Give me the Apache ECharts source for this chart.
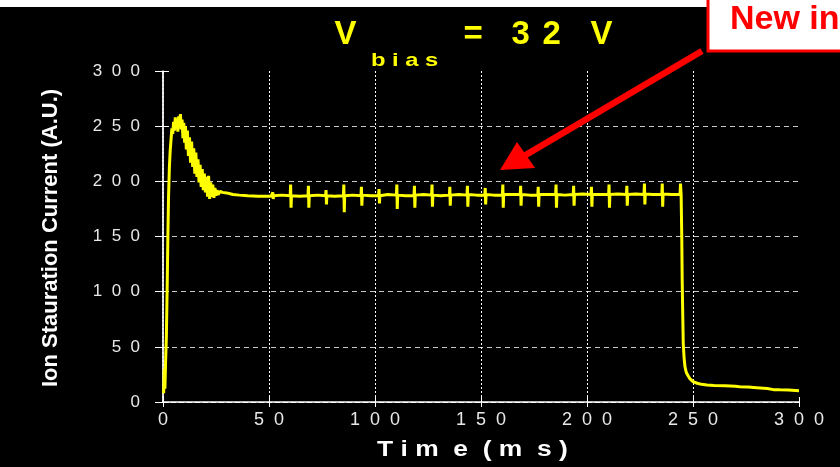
<!DOCTYPE html>
<html>
<head>
<meta charset="utf-8">
<script src="https://cdn.jsdelivr.net/npm/echarts@6/dist/echarts.min.js"></script>
<style>
  html, body { margin: 0; padding: 0; background: #000; }
  #chart { width: 840px; height: 467px; }
</style>
</head>
<body>
<div id="chart"></div>
<script>
// Ion saturation current trace, [time (ms), current (A.U.)]
// Start-up transient: steep rise, ringing overshoot, settling
const riseSegment = [
  [0.3, 8], [0.6, 30], [0.9, 12], [1.2, 35], [1.6, 60], [2.0, 108], [2.3, 150], [2.6, 185],
  [3.0, 212], [3.4, 228], [3.8, 238], [4.2, 248], [4.6, 243], [5.0, 254], [5.4, 246], [5.8, 258],
  [6.2, 249], [6.6, 255], [7.0, 245], [7.4, 259], [7.8, 250], [8.2, 261], [8.6, 247], [9.0, 256],
  [9.4, 239], [9.8, 253], [10.2, 235], [10.6, 250], [11.0, 229], [11.5, 246], [12.0, 223], [12.5, 240],
  [13.0, 217], [13.5, 236], [14.0, 213], [14.5, 230], [15.0, 207], [15.5, 226], [16.0, 204], [16.5, 220],
  [17.0, 199], [17.5, 215], [18.0, 195], [18.5, 211], [19.0, 192], [19.5, 207], [20.0, 190], [20.5, 204],
  [21.0, 186], [21.5, 205], [22.0, 184], [22.5, 199], [23.0, 186], [23.5, 197], [24.0, 185], [24.5, 194],
  [25.0, 187], [25.5, 192], [26.0, 188], [27.0, 191], [28.0, 190], [30.0, 189.5], [33.0, 188],
  [36.0, 187.5], [40.0, 187], [45.0, 186.5], [51.0, 186.5]
];

// Flat-top with the periodic pickup spikes
const plateauSegment = [
  [51.6, 186.5], [51.8, 190], [52.0, 184], [52.2, 187], [56, 187.5],
  [60.0, 187], [60.2, 197], [60.4, 176], [60.6, 187], [64.5, 186.5],
  [68.4, 187], [68.6, 196], [68.8, 176], [69.0, 187], [73, 187.5],
  [76.7, 187], [76.9, 192], [77.1, 179], [77.3, 187], [81, 186.5],
  [85.1, 187], [85.3, 197], [85.5, 172], [85.7, 187], [89.5, 187.5],
  [93.4, 187], [93.6, 195], [93.8, 178], [94.0, 187.5], [98, 187],
  [101.7, 187], [101.9, 193], [102.1, 180], [102.3, 187], [106, 188],
  [110.1, 187.5], [110.3, 197], [110.5, 175], [110.7, 187.5], [114.5, 187],
  [118.4, 187], [118.6, 196], [118.8, 176], [119.0, 187.5], [123, 188],
  [126.7, 187.5], [126.9, 197], [127.1, 177], [127.3, 187.5], [131, 187],
  [135.1, 187.5], [135.3, 195], [135.5, 178], [135.7, 187.5], [139.5, 188],
  [143.4, 187.5], [143.6, 196], [143.8, 177], [144.0, 188], [148, 187.5],
  [151.8, 187.5], [152.0, 194], [152.2, 179], [152.4, 188], [156, 187.5],
  [160.1, 187.5], [160.3, 197], [160.5, 176], [160.7, 188], [164.5, 188],
  [168.5, 188], [168.7, 196], [168.9, 178], [169.1, 188], [173, 187.5],
  [176.8, 187.5], [177.0, 195], [177.2, 177], [177.4, 188], [181, 188],
  [185.2, 188], [185.4, 197], [185.6, 176], [185.8, 188], [189.5, 187.5],
  [193.5, 188], [193.7, 196], [193.9, 178], [194.1, 188], [198, 188.5],
  [201.9, 188], [202.1, 195], [202.3, 177], [202.5, 188], [206, 188],
  [210.2, 188], [210.4, 197], [210.6, 176], [210.8, 188], [214.5, 188.5],
  [218.6, 188], [218.8, 196], [219.0, 178], [219.2, 188], [223, 188.5],
  [226.9, 188], [227.1, 198], [227.3, 179], [227.5, 188.5], [231, 188],
  [235.3, 188], [235.5, 198], [235.7, 177], [235.9, 188.5], [240, 188],
  [243.9, 188], [244.1, 198]
];

// Switch-off and slow tail
const decaySegment = [
  [244.4, 188], [244.7, 150], [244.9, 110], [245.2, 75], [245.4, 53], [245.8, 40], [246.2, 32],
  [246.8, 27], [247.6, 24], [248.6, 21], [250, 18.5], [252, 17], [254, 16], [256.6, 15.4],
  [260, 15], [265, 14.8], [270, 14.2], [272, 13.9], [276, 13.5], [280, 13], [285, 12.3],
  [288, 11.2], [291, 11], [295, 10.9], [300, 10.3]
];

const timeRange = [0, 300];
const currentRange = [0, 300];
const tickStep = 50;

const FONT = '"Liberation Sans", Arial, Helvetica, sans-serif';
const YELLOW = '#ffff00';
const spaced = v => String(v).split('').join('  ');

function label(x, y, text, fill, font, extra) {
  return Object.assign({
    type: 'text', x: x, y: y,
    style: { text: text, fill: fill, font: font, align: 'left', verticalAlign: 'middle' }
  }, extra || {});
}

const chart = echarts.init(document.getElementById('chart'), null, { renderer: 'canvas' });

chart.setOption({
  backgroundColor: '#000',
  animation: false,
  grid: { left: 163, right: 41, top: 71, bottom: 65, containLabel: false },
  xAxis: [{
    type: 'value', min: timeRange[0], max: timeRange[1], interval: tickStep,
    axisLine: { show: true, lineStyle: { color: '#ffffff', width: 1.5 } },
    axisTick: { show: true, inside: true, length: 5, lineStyle: { color: '#ffffff' } },
    axisLabel: { color: '#e8e8e8', fontFamily: FONT, fontSize: 18, margin: 9, formatter: spaced },
    splitLine: { show: true, showMinLine: false, showMaxLine: false,
      lineStyle: { color: '#ffffff', type: [2, 2], width: 1 } }
  }, {
    type: 'value', position: 'top', min: timeRange[0], max: timeRange[1], interval: tickStep,
    axisLine: { show: true, lineStyle: { color: '#ffffff', type: [5, 3], width: 1 } },
    axisTick: { show: true, inside: true, length: 5, lineStyle: { color: '#ffffff' } },
    axisLabel: { show: false }, splitLine: { show: false }
  }],
  yAxis: [{
    type: 'value', min: currentRange[0], max: currentRange[1], interval: tickStep,
    axisLine: { show: true, lineStyle: { color: '#ffffff', type: [2, 2], width: 1.5 } },
    axisTick: { show: true, inside: true, length: 6, lineStyle: { color: '#ffffff' } },
    axisLabel: { color: '#e8e8e8', fontFamily: FONT, fontSize: 17, margin: 23, formatter: spaced },
    splitLine: { show: true, showMinLine: false, showMaxLine: false,
      lineStyle: { color: '#c8c8c8', type: [5, 4], width: 1 } }
  }, {
    type: 'value', position: 'right', min: currentRange[0], max: currentRange[1], interval: tickStep,
    axisLine: { show: true, lineStyle: { color: '#ffffff', width: 1.5 } },
    axisTick: { show: true, inside: true, length: 8, lineStyle: { color: '#ffffff' } },
    axisLabel: { show: false }, splitLine: { show: false }
  }],
  series: [{
    type: 'line',
    data: riseSegment.concat(plateauSegment, decaySegment),
    showSymbol: false,
    clip: true,
    lineStyle: { color: YELLOW, width: 3, join: 'bevel' },
    z: 5
  }],
  graphic: [
    // white slide margin above the plot image
    { type: 'rect', shape: { x: 0, y: 0, width: 840, height: 7 }, z: 1, style: { fill: '#ffffff' } },
    // axis titles
    { type: 'text', x: 51, y: 238, rotation: Math.PI / 2,
      style: { text: 'Ion Stauration Current (A.U.)', fill: '#ffffff', font: 'bold 22px ' + FONT,
               align: 'center', verticalAlign: 'middle' } },
    label(377, 450, 'T i m  e  ( m  s )', '#ffffff', 'bold 22px ' + FONT, { scaleX: 1.2 }),
    // heading: V_bias = 32 V
    label(334.5, 35, 'V', YELLOW, 'bold 33px ' + FONT),
    label(371, 61, 'b i a s', YELLOW, 'bold 19px ' + FONT, { scaleX: 1.25 }),
    label(463.5, 35, '=', YELLOW, 'bold 33px ' + FONT),
    label(511.5, 35, '3', YELLOW, 'bold 33px ' + FONT),
    label(542.5, 35, '2', YELLOW, 'bold 33px ' + FONT),
    label(590.5, 35, 'V', YELLOW, 'bold 33px ' + FONT),
    // callout box
    { type: 'rect', shape: { x: 708, y: -6, width: 150, height: 57 }, z: 20,
      style: { fill: '#ffffff', stroke: '#ff0000', lineWidth: 3 } },
    label(730, 20, 'New insulator', '#ff0000', 'bold 34px ' + FONT, { z: 21 }),
    // arrow pointing at the spikes
    { type: 'line', z: 19, shape: { x1: 702, y1: 51, x2: 524, y2: 156 },
      style: { stroke: '#ff0000', lineWidth: 6.5 } },
    { type: 'polygon', z: 19, shape: { points: [[500, 170], [517, 142], [535, 168]] },
      style: { fill: '#ff0000' } }
  ]
});
</script>
</body>
</html>
